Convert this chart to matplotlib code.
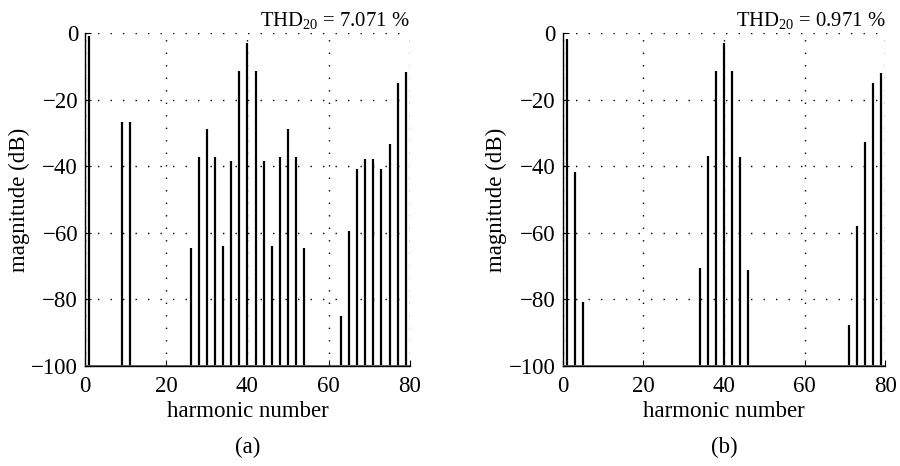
import numpy as np
import matplotlib
matplotlib.use("Agg")
import matplotlib.pyplot as plt

plt.rcParams['font.family'] = ['Liberation Serif', 'DejaVu Serif']
plt.rcParams['mathtext.fontset'] = 'custom'
plt.rcParams['mathtext.rm'] = 'Liberation Serif'
plt.rcParams['mathtext.it'] = 'Liberation Serif:italic'

# harmonic spectrum, case (a)
harm_a = [1, 9, 11, 26, 28, 30, 32, 34, 36, 38, 40, 42, 44, 46, 48, 50, 52, 54,
          63, 65, 67, 69, 71, 73, 75, 77, 79]
mag_a = [-1.0, -26.8, -26.8, -64.5, -37.2, -28.8, -37.2, -64.1, -38.5, -11.5,
         -3.1, -11.5, -38.5, -64.1, -37.2, -28.8, -37.2, -64.5,
         -85.1, -59.6, -40.9, -37.9, -37.9, -40.9, -33.4, -15.0, -11.8]
thd_a = "7.071"

# harmonic spectrum, case (b)
harm_b = [1, 3, 5, 34, 36, 38, 40, 42, 44, 46, 71, 73, 75, 77, 79]
mag_b = [-1.7, -41.8, -80.9, -70.7, -37.0, -11.5, -3.1, -11.5, -37.3, -71.3,
         -87.8, -58.1, -32.8, -15.0, -12.0]
thd_b = "0.971"

floor = -100
fs = 16.5

fig = plt.figure(figsize=(9, 4.66), dpi=100)
ax1 = fig.add_axes([0.0944, 0.2146, 0.361, 0.7146])
ax2 = fig.add_axes([0.6252, 0.2146, 0.3583, 0.7146])

for ax, h, m, thd, tag in [(ax1, harm_a, mag_a, thd_a, "(a)"),
                           (ax2, harm_b, mag_b, thd_b, "(b)")]:
    ax.vlines(h, floor, m, colors='black', lw=1.6)
    ax.axhline(floor, color='#555555', lw=2.0, zorder=3)
    ax.set_xlim(0, 80)
    ax.set_ylim(-100, 0)
    ax.set_xticks([0, 20, 40, 60, 80])
    ax.set_yticks([-100, -80, -60, -40, -20, 0])
    ax.grid(True, color='black', linestyle=(0, (1, 8)), lw=1.0)
    ax.spines['top'].set_visible(False)
    ax.spines['right'].set_visible(False)
    ax.spines['left'].set_linewidth(1.0)
    ax.spines['bottom'].set_linewidth(1.0)
    ax.tick_params(direction='in', length=4, labelsize=fs)
    ax.tick_params(axis='x', pad=7)
    ax.tick_params(axis='y', pad=5)
    ax.set_xlabel("harmonic number", fontsize=fs, labelpad=3)
    ax.set_ylabel("magnitude (dB)", fontsize=fs, labelpad=1)
    ax.text(1.0, 1.005, "THD$_{20}$ = " + thd + " %", transform=ax.transAxes,
            ha='right', va='bottom', fontsize=fs * 0.9)
    pos = ax.get_position()
    fig.text((pos.x0 + pos.x1) / 2, 1 - 447 / 466, tag, ha='center',
             va='center', fontsize=fs)

fig.savefig("out.png", dpi=100)
